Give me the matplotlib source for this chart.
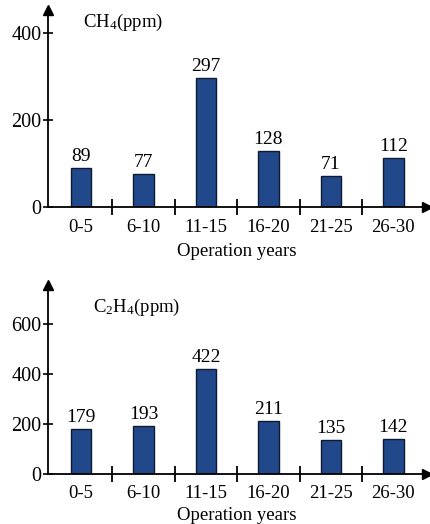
import numpy as np
import matplotlib.pyplot as plt
from matplotlib.transforms import offset_copy

plt.rcParams['font.family'] = 'Liberation Serif'
plt.rcParams['mathtext.fontset'] = 'custom'
plt.rcParams['mathtext.rm'] = 'Liberation Serif'
plt.rcParams['mathtext.it'] = 'Liberation Serif'

# 运行年限分组与气体含量
years = ['0-5', '6-10', '11-15', '16-20', '21-25', '26-30']
ch4 = [89, 77, 297, 128, 71, 112]
c2h4 = [179, 193, 422, 211, 135, 142]

bar_color = '#21488a'

fig = plt.figure(figsize=(4.31, 5.24), dpi=100)


def draw_panel(rect, values, ymax, yticks, cat_dy, xlabel_dy):
  ax = fig.add_axes(rect)
  x = np.arange(len(values))
  ax.bar(x, values, width=0.33, color=bar_color, edgecolor='#0d1a30', linewidth=1.0)

  # 柱顶数值
  lab_tr = offset_copy(ax.transData, fig=fig, y=7, units='dots')
  for xi, v in zip(x, values):
    ax.text(xi, v, str(v), ha='center', va='baseline', fontsize=14, transform=lab_tr)

  ax.set_xlim(-0.53, 5.54)
  ax.set_ylim(0, ymax)
  for s in ['top', 'right']:
    ax.spines[s].set_visible(False)
  ax.spines['left'].set_linewidth(1.3)
  ax.spines['bottom'].set_linewidth(1.3)

  # 坐标轴箭头
  ax.plot(1, 0, '>k', markersize=7, transform=ax.get_yaxis_transform(), clip_on=False)
  ax.plot(-0.53, 1, '^k', markersize=7, transform=ax.get_xaxis_transform(), clip_on=False)

  # x轴分隔刻度在组之间，组名放在柱下
  ax.set_xticks(x[:-1] + 0.5)
  ax.set_xticklabels([])
  ax.tick_params(axis='x', direction='inout', length=11, width=1.3)
  cat_tr = offset_copy(ax.transData, fig=fig, y=-cat_dy, units='dots')
  for xi, name in zip(x, years):
    ax.text(xi, 0, name, ha='center', va='center', fontsize=13.5, transform=cat_tr)
  xl_tr = offset_copy(ax.get_xaxis_transform(), fig=fig, y=-xlabel_dy, units='dots')
  ax.text(2.5, 0, 'Operation years', ha='center', va='center', fontsize=13.5,
          transform=xl_tr)

  ax.set_yticks(yticks)
  ax.tick_params(axis='y', direction='inout', length=7, width=1.2, labelsize=14.5, pad=1)
  return ax


ax1 = draw_panel([48 / 431, (524 - 207) / 524, 379 / 431, 197 / 524],
                 ch4, 453, [0, 200, 400], 21, 45)
fig.text(83 / 431, 1 - 22 / 524, 'CH$_{\\mathrm{4}}$(ppm)', fontsize=13.5, va='center')

ax2 = draw_panel([48 / 431, (524 - 474) / 524, 379 / 431, 189 / 524],
                 c2h4, 756, [0, 200, 400, 600], 19, 42)
fig.text(93 / 431, 1 - 307 / 524, 'C$_{\\mathrm{2}}$H$_{\\mathrm{4}}$(ppm)', fontsize=13.5, va='center')

plt.savefig('out.png', dpi=100)
